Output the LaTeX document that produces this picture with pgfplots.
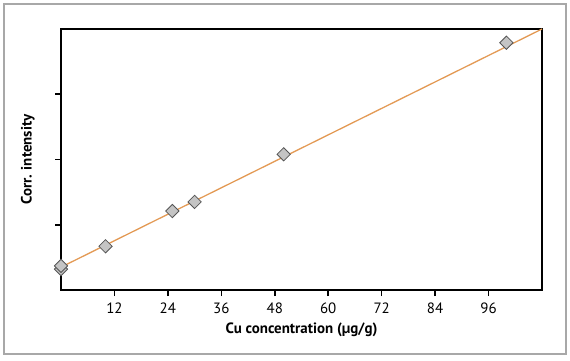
\documentclass[border=0pt]{standalone}
\usepackage{fontspec}
\setmainfont{PT Sans}
\usepackage{pgfplots}
\pgfplotsset{compat=1.18}
\definecolor{fitline}{HTML}{E39A55}
\definecolor{markfill}{HTML}{C4C4C4}
\definecolor{markdraw}{HTML}{555555}
\definecolor{frame}{HTML}{A8A8A8}
\begin{document}
\begin{tikzpicture}[x=1bp,y=1bp]
\useasboundingbox (-61,-70) rectangle (509,290);
\draw[frame, line width=2bp] (-57,-64) rectangle (505,286);
\begin{axis}[
  at={(0,0)}, anchor=south west,
  scale only axis, width=481bp, height=261bp,
  xmin=0, xmax=108, ymin=0, ymax=4,
  xtick={12,24,36,48,60,72,84,96},
  ytick={1,2,3}, yticklabels={},
  xtick pos=bottom, ytick pos=left,
  axis line style={line width=2.2bp},
  tick style={black, line width=1.6bp},
  tick align=outside, major tick length=6bp,
  /pgf/number format/assume math mode=true,
  xticklabel style={font=\fontsize{15}{17}\selectfont, yshift=-3bp},
  xlabel={\fontsize{15}{17}\selectfont\bfseries Cu concentration (µg/g)},
  ylabel={\fontsize{15}{17}\selectfont\bfseries Corr. intensity},
  xlabel style={yshift=-3bp},
  ylabel style={yshift=10bp},
  clip=false,
]
\addplot[fitline, line width=1.3bp] coordinates {(0,0.35) (108,4.0)};
\addplot[only marks, mark=square*, mark size=4.7bp,
  mark options={rotate=45, fill=markfill, draw=markdraw, line width=0.8bp}]
  coordinates {(0,0.32) (0,0.37) (10,0.67) (25,1.21) (30,1.35) (50,2.08) (100,3.79)};
\end{axis}
\end{tikzpicture}
\end{document}
